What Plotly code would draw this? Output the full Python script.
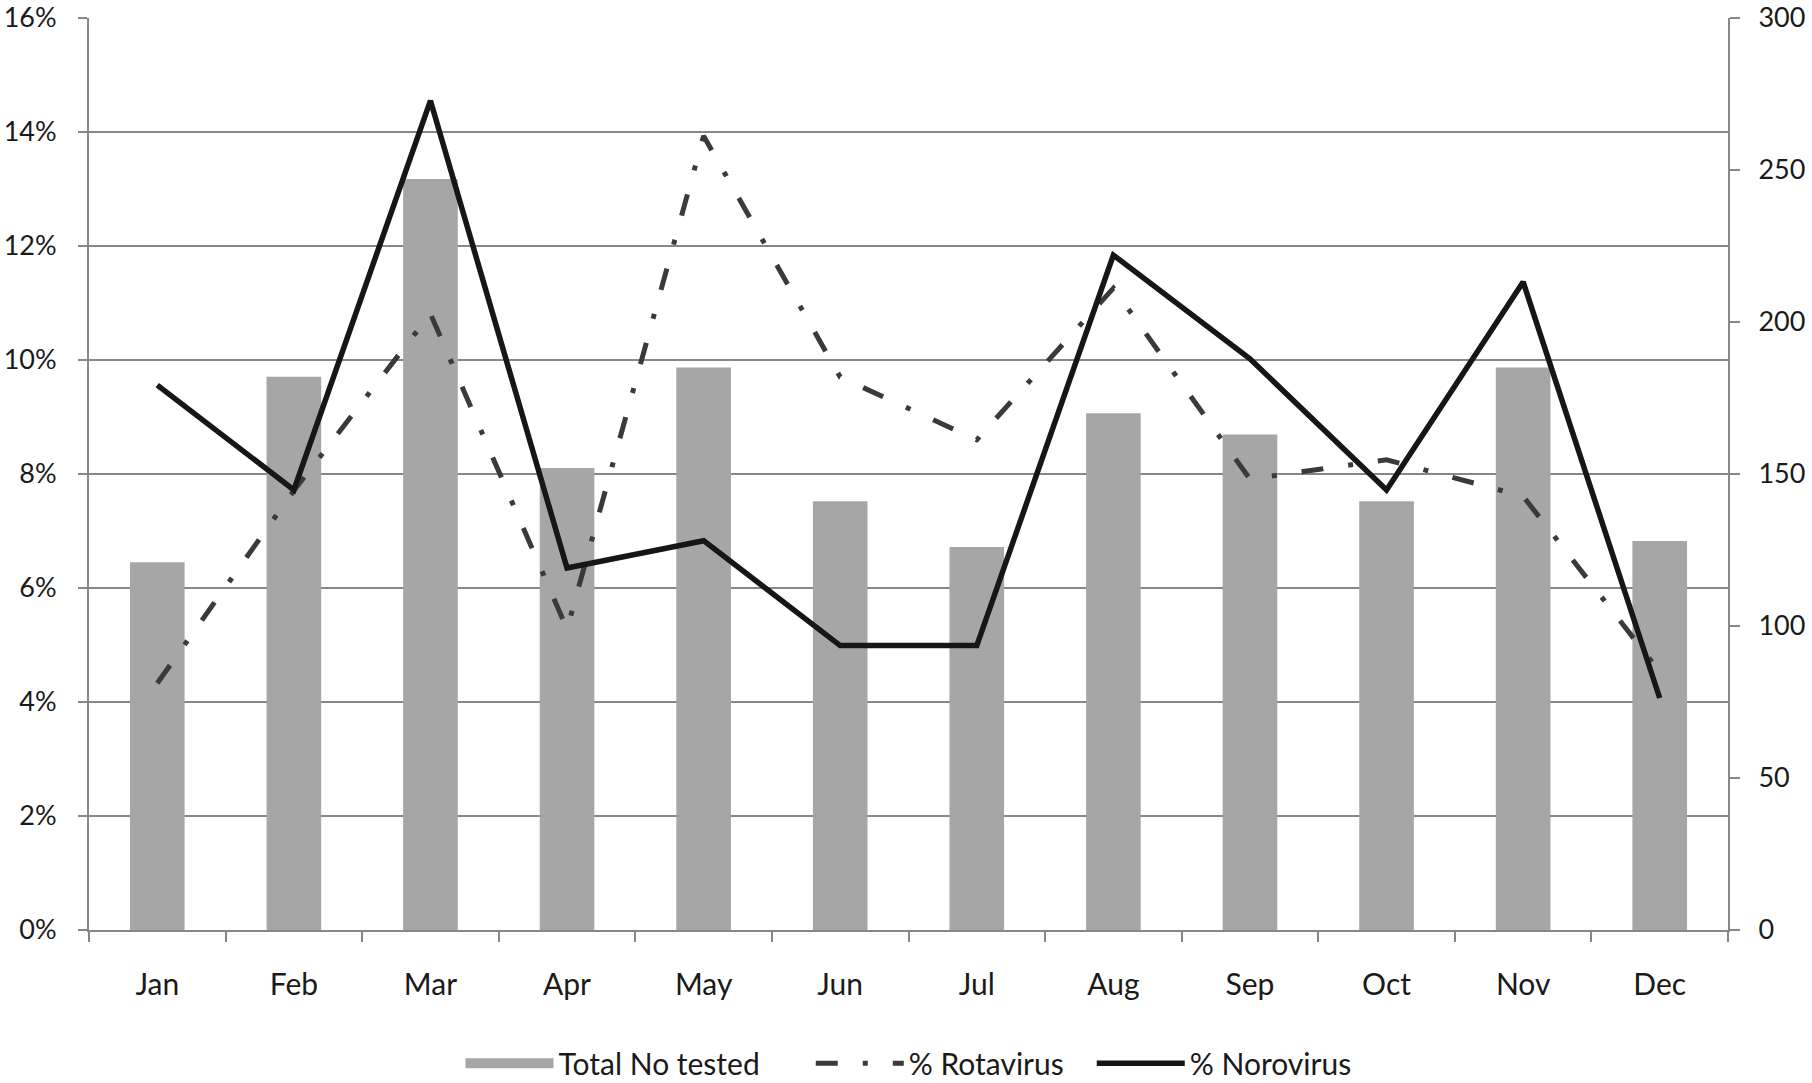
import plotly.graph_objects as go

months = ["Jan", "Feb", "Mar", "Apr", "May", "Jun", "Jul", "Aug", "Sep", "Oct", "Nov", "Dec"]
total_tested = [121, 182, 247, 152, 185, 141, 126, 170, 163, 141, 185, 128]
pct_rotavirus = [4.33, 7.71, 10.81, 5.28, 13.93, 9.70, 8.60, 11.26, 7.91, 8.25, 7.61, 4.53]
pct_norovirus = [9.56, 7.72, 14.55, 6.35, 6.83, 4.99, 4.99, 11.84, 10.02, 7.72, 11.37, 4.07]

left_ticks = [0, 2, 4, 6, 8, 10, 12, 14, 16]
left_labels = ["0%", "2%", "4%", "6%", "8%", "10%", "12%", "14%", "16%"]
right_ticks = [0, 50, 100, 150, 200, 250, 300]

FONT = "Lato"
AX = "#878787"
TXT = "#1a1a1a"
NB = "\u00a0"

fig = go.Figure()

fig.add_trace(go.Bar(
    x=months, y=total_tested, name="Total No tested",
    marker=dict(color="#a6a6a6", line=dict(width=0)),
    yaxis="y", showlegend=False,
))
# legend swatch for the bars
fig.add_trace(go.Scatter(
    x=[None], y=[None], mode="lines", name="Total No tested" + NB * 6,
    line=dict(color="#a6a6a6", width=20), yaxis="y",
))
fig.add_trace(go.Scatter(
    x=months, y=pct_rotavirus, name="% Rotavirus" + NB * 3, mode="lines",
    line=dict(color="#3a3a3a", width=5, dash="22px,25px,5px,25px"),
    yaxis="y2",
))
fig.add_trace(go.Scatter(
    x=months, y=pct_norovirus, name="% Norovirus", mode="lines",
    line=dict(color="#161616", width=5.5),
    yaxis="y2",
))

fig.update_layout(
    width=1812, height=1083,
    margin=dict(l=89, r=84, t=18, b=153, autoexpand=False),
    paper_bgcolor="white", plot_bgcolor="white",
    font=dict(family=FONT, size=27, color=TXT),
    bargap=0.6,
    xaxis=dict(
        type="category", showgrid=False, showline=True, linecolor=AX, linewidth=2,
        ticks="outside", tickson="boundaries", ticklen=10, tickcolor=AX, tickwidth=2,
        ticklabelstandoff=27, tickfont=dict(family=FONT, size=30, color=TXT),
        range=[-0.5, 11.5], automargin=False, ticklabeloverflow="allow",
    ),
    yaxis=dict(
        side="right", range=[0, 300], tickvals=right_ticks, showgrid=False,
        showline=True, linecolor=AX, linewidth=2, ticks="outside", ticklen=10,
        tickcolor=AX, tickwidth=2, ticklabelstandoff=13, zeroline=False,
        tickfont=dict(family=FONT, size=27, color=TXT), automargin=False,
        ticklabeloverflow="allow",
    ),
    yaxis2=dict(
        overlaying="y", side="left", range=[0, 16], tickvals=left_ticks,
        ticktext=left_labels, showgrid=True, gridcolor=AX, gridwidth=2,
        showline=True, linecolor=AX, linewidth=2, ticks="outside", ticklen=9,
        tickcolor=AX, tickwidth=2, ticklabelstandoff=16, zeroline=False,
        tickfont=dict(family=FONT, size=27, color=TXT), automargin=False,
        ticklabeloverflow="allow",
    ),
    legend=dict(
        orientation="h", x=0.5, xanchor="center", y=-0.146, yanchor="middle",
        font=dict(family=FONT, size=30, color=TXT), itemwidth=88,
        bgcolor="rgba(0,0,0,0)",
    ),
)

fig.write_html(
    "out.html",
    config={"displayModeBar": False},
    post_script="document.body.style.margin='0';document.body.style.padding='0';"
                "document.body.style.overflow='hidden';",
)
